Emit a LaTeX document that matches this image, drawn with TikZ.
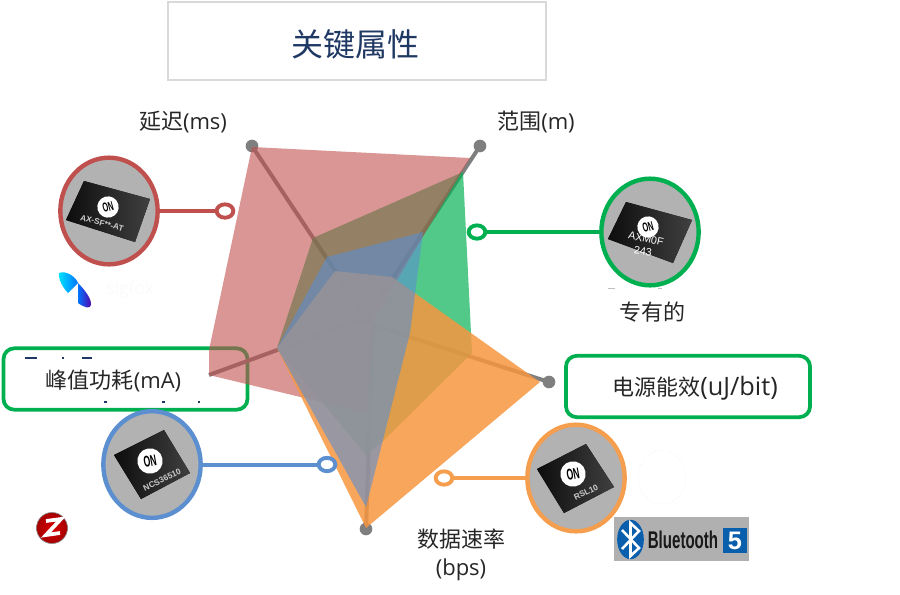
\documentclass[tikz,border=0pt]{standalone}
\usepackage{fontspec}
\setmainfont{Open Sans}
\newfontfamily\cjk{Noto Sans CJK SC}
\newfontfamily\boldsans{Liberation Sans}
\usetikzlibrary{shapes.geometric}
\definecolor{cred}{HTML}{C0504D}
\definecolor{cgreen}{HTML}{00B050}
\definecolor{cblue}{HTML}{5B8FD0}
\definecolor{corange}{HTML}{F69640}
\definecolor{cline}{HTML}{F59E4E}
\definecolor{cgrey}{HTML}{7F7F7F}
\definecolor{cnavy}{HTML}{1F3864}
\definecolor{cbt}{HTML}{0A5FAD}
\newcommand{\onword}[1]{\scalebox{.72}[1.3]{\fontsize{#1}{#1}\selectfont ON}}
\tikzset{
  px/.style={x=0.75pt,y=-0.75pt},
  label text/.style={font=\fontsize{16.5}{21}\selectfont,text=black!85,align=center,inner sep=0pt},
  box/.style={draw=cgreen,line width=2.8pt,rounded corners=8pt,fill=white,minimum width=183pt,minimum height=46pt,inner sep=0pt},
  chipcircle/.style={ellipse,draw=#1,line width=3.3pt,fill=black!30,minimum width=73pt,minimum height=80pt,inner sep=0pt},
  ringnode/.style={ellipse,draw=#1,line width=2.9pt,fill=white,minimum width=12.5pt,minimum height=10pt,inner sep=0pt},
  link/.style={draw=#1,line width=3pt},
  dot/.style={circle,fill=cgrey,minimum size=9.5pt,inner sep=0pt},
  spoke/.style={draw=cgrey,line width=3pt},
  chip/.style={left color=black!95,right color=black!75,draw=none},
  onmark/.style={circle,fill=white,inner sep=0pt,minimum size=#1,font=\boldsans\bfseries,text=black},
  chiptext/.style={font=\boldsans\bfseries\fontsize{6.2}{7}\selectfont,text=black!20,inner sep=0pt},
  sliver/.style={draw=cnavy,line width=1pt}
}
\begin{document}
\begin{tikzpicture}[px]
\useasboundingbox (0,0) rectangle (900,594);
% title
\node[draw=black!15,line width=1.5pt,fill=white,minimum width=283pt,minimum height=58pt,inner sep=0pt] (title) at (357,41) {};
\node[font=\cjk\fontsize{24}{28}\selectfont,text=cnavy,inner sep=0pt] (titletext) at (355,44) {关键属性};
% label box at left, below the chart
\node[box] (peak) at (125.5,379) {};
\node[label text] (peaktext) at (113.5,381) {{\cjk 峰值功耗}(mA)};
\draw[sliver] (25,358) -- (37,358) (62,358) -- (64,358) (82,358) -- (92,358)
              (104,402) -- (107,402) (162,402) -- (165,402) (198,402) -- (200,402);
% outer points
\node[dot] (pA) at (252,146) {};
\node[dot] (pB) at (480,146) {};
\node[dot] (pC) at (549,382) {};
\node[dot] (pD) at (366,529) {};
\coordinate (pE) at (209,375);
\coordinate (midA) at (373,328);
\coordinate (midB) at (362,325);
\coordinate (midC) at (373,325);
\coordinate (midD) at (373,322);
\coordinate (midE) at (373,315);
\draw[spoke] (pA.center) -- (midA);
\draw[spoke] (pB.center) -- (midB);
\draw[spoke] (pC.center) -- (midC);
\draw[spoke] (pD.center) -- (midD);
\draw[spoke] (pE) -- (midE);
% polygons
\fill[cgreen,fill opacity=.68] (463,172) -- (472,353) -- (382,442) -- (366,455) -- (277,348) -- (313,238) -- cycle;
\fill[cred,fill opacity=.6] (252,147) -- (470,158) -- (397,280) -- (373,322) -- (367,413) -- (209,375) -- (209,350) -- cycle;
\fill[corange,fill opacity=.85] (335,271) -- (392,277) -- (540,382) -- (366,528) -- (277,348) -- cycle;
\fill[cblue,fill opacity=.6] (327,257) -- (423,232) -- (410,333) -- (366,507) -- (277,348) -- cycle;
% axis labels
\node[label text] (lA) at (183,122) {{\cjk 延迟}(ms)};
\node[label text] (lB) at (536,122) {{\cjk 范围}(m)};
\node[label text] (lC) at (652,312) {\cjk 专有的};
\node[label text] (lD) at (461,555) {{\cjk 数据速率}\\(bps)};
\node[box] (power) at (688,386.5) {};
\node[label text] (powertext) at (695,388.5) {{\cjk 电源能效}{\fontsize{19}{21}\selectfont (uJ/bit)}};
% red device
\node[chipcircle=cred] (cR) at (109,211) {};
\node[ringnode=cred] (rR) at (225,211) {};
\draw[link=cred] (rR) -- (cR);
\fill[chip] (84,181) -- (150,199) -- (135,242) -- (66,220) -- cycle;
\node[onmark=16pt,rotate=15] (onR) at (108,207) {\onword{7.5}};
\node[chiptext,rotate=-15] (tR) at (102,223) {AX-SF**-AT};
% green device
\node[chipcircle=cgreen] (cG) at (650,232) {};
\node[ringnode=cgreen] (rG) at (477,232) {};
\draw[link=cgreen] (rG) -- (cG);
\fill[chip] (626,202) -- (692,220) -- (673,263) -- (608,239) -- cycle;
\node[onmark=16pt,rotate=15] (onG) at (648,227) {\onword{7.5}};
\node[font=\boldsans\fontsize{8}{9}\selectfont,text=white,inner sep=0pt,rotate=-12] (tG1) at (646,239) {AXM0F};
\node[font=\boldsans\fontsize{8}{9}\selectfont,text=white,inner sep=0pt,rotate=-8] (tG2) at (643,251) {243};
% blue device
\node[chipcircle=cblue] (cB) at (152,464.5) {};
\node[ringnode=cblue] (rB) at (327,464.5) {};
\draw[link=cblue] (rB) -- (cB);
\fill[chip] (164,430) -- (190,473) -- (141,499) -- (114,455) -- cycle;
\node[onmark=19pt,rotate=10] (onB) at (150,461) {\onword{9}};
\node[chiptext,rotate=25] (tB) at (162,480) {NCS36510};
% orange device
\node[chipcircle=cline] (cO) at (576,478) {};
\node[ringnode=cline] (rO) at (444,478) {};
\draw[link=cline] (rO) -- (cO);
\fill[chip] (586,444) -- (614,487) -- (564,513) -- (537,469) -- cycle;
\node[onmark=19pt,rotate=10] (onO) at (573,474) {\onword{9}};
\node[chiptext,rotate=25] (tO) at (586,492) {RSL10};
% faint marks
\draw[black!3,line width=1pt,dotted] (662,477) ellipse (24 and 27);
\node[text=black!2,inner sep=0pt,font=\fontsize{13}{14}\selectfont] (sf) at (130,290) {sigfox};
\draw[black!25,line width=.6pt] (608,288) -- (615,288) (658,288) -- (662,288);
% sigfox mark
\shade[left color=cyan!90!blue,right color=blue!55!cyan] (59,273) .. controls (66,270) and (76,277) .. (78,283) -- (68,293) .. controls (63,288) and (58,279) .. (59,273) -- cycle;
\shade[left color=blue!55!cyan,right color=violet!70!blue] (78,283) .. controls (84,289) and (92,299) .. (91,305) .. controls (90,309) and (85,308) .. (78,303) -- cycle;
% zigbee mark
\shade[inner color=red!85!black,outer color=red!65!black,draw=black!45,line width=.5pt] (52,528) circle (15.5);
\draw[white,line width=2.8pt,line join=miter] (46,521) -- (61,519) -- (46,535) -- (60,533);
% bluetooth mark
\node[fill=black!31,minimum width=101pt,minimum height=33pt,inner sep=0pt] (bt) at (681.5,539) {};
\node[ellipse,fill=cbt,minimum width=20pt,minimum height=29.5pt,inner sep=0pt] (btoval) at (630.5,539.5) {};
\draw[white,line width=1.9pt,line join=miter] (622,530) -- (639,548) -- (630.5,556) -- (630.5,523) -- (639,531) -- (622,549);
\node[font=\boldsans\bfseries\fontsize{14.5}{16}\selectfont,text=black!90,inner sep=0pt] (bttext) at (683,540) {\scalebox{.78}[1.25]{Bluetooth}};
\node[fill=cbt,minimum width=18pt,minimum height=18.5pt,inner sep=0pt,font=\boldsans\bfseries\fontsize{19}{20}\selectfont,text=white] (btfive) at (735,540.5) {5};
\end{tikzpicture}
\end{document}
